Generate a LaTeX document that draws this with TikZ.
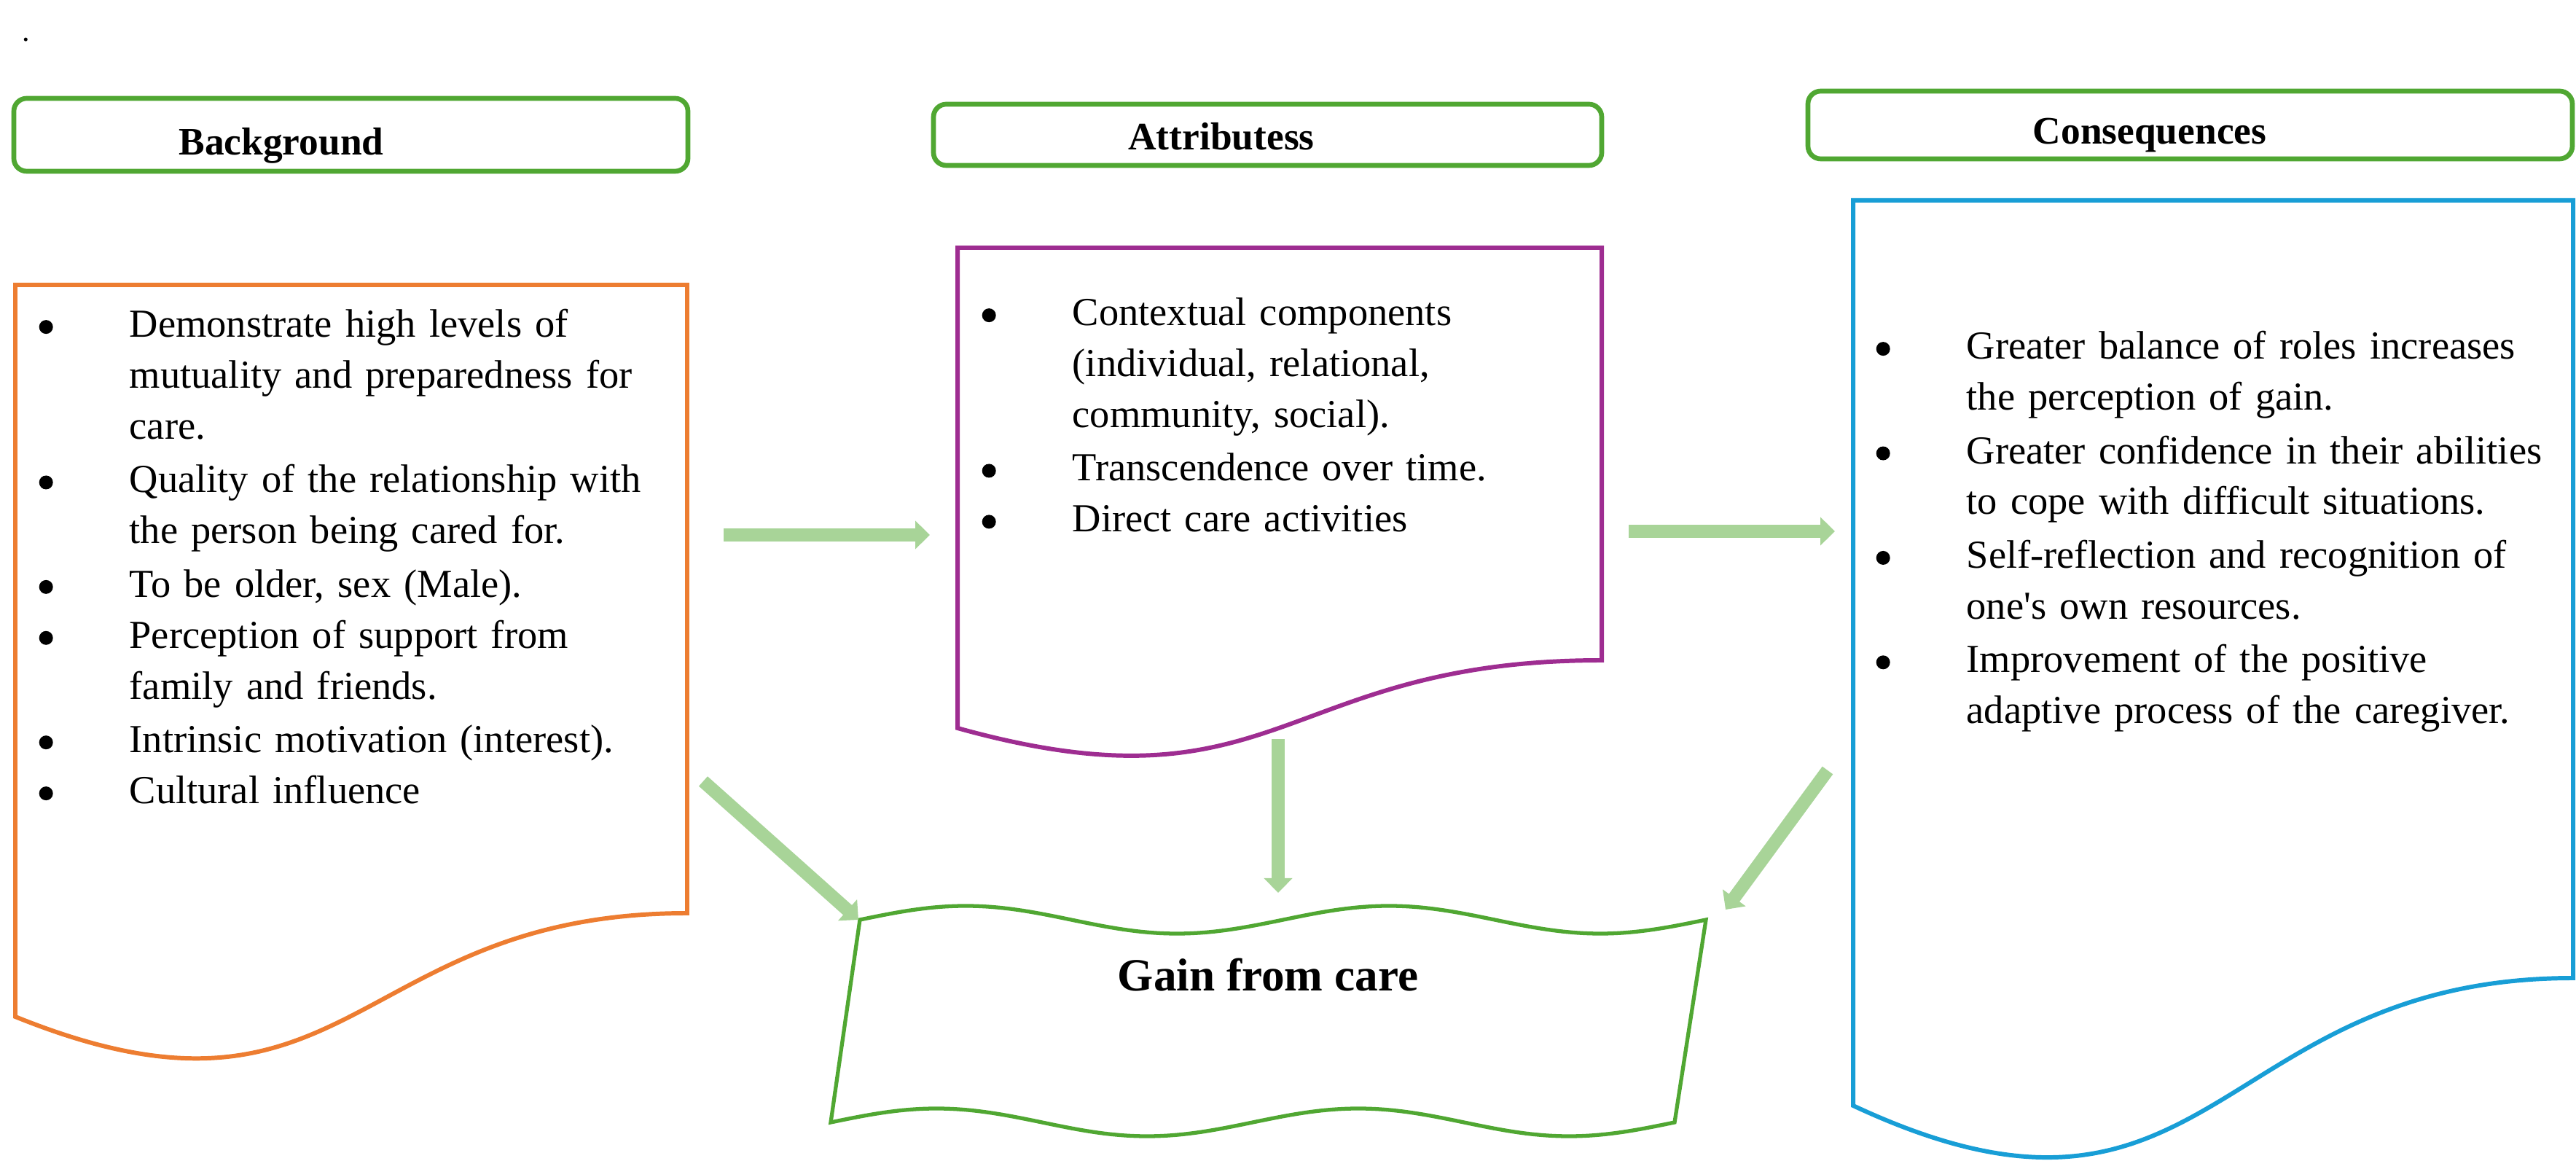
\documentclass[tikz,border=0pt]{standalone}
\usepackage{fontspec}
\setmainfont{Liberation Serif}
\usetikzlibrary{arrows.meta}
\definecolor{hdgreen}{RGB}{80,167,50}
\definecolor{bgorange}{RGB}{237,125,49}
\definecolor{atpurple}{RGB}{158,45,145}
\definecolor{csblue}{RGB}{24,158,214}
\definecolor{flowgreen}{RGB}{168,212,152}
\newcommand{\lbullet}{\tikz[baseline=0pt]\fill (0.11cm,0.14cm) circle (0.095cm);}
\newcommand{\litem}[1]{\par\noindent\makebox[1.24cm][l]{\lbullet}\begin{tabular}[t]{@{}l@{}}#1\end{tabular}}

\begin{document}
\begin{tikzpicture}[
      headbox/.style={draw=hdgreen, line width=1.9pt, rounded corners=5pt},
      headtext/.style={font=\fontsize{15.2}{18}\selectfont\bfseries, anchor=base, inner sep=0pt},
      listtext/.style={font=\fontsize{15.5}{19.9}\selectfont, text width=9.5cm, align=left, anchor=north west, inner sep=0pt},
      docline/.style={line width=1.7pt},
      flow/.style={draw=flowgreen, line width=0.18cm, -{Triangle[length=0.2cm, width=0.38cm]}}
    ]
      \useasboundingbox (0,0) rectangle (35.35,15.93);
      \node[font=\fontsize{12}{14}\selectfont, anchor=base west, inner sep=0pt] (dot) at (0.30,15.36) {.};

      % Headers
      \node[headbox, minimum width=9.25cm, minimum height=1.0cm] (bgHead) at (4.815,14.08) {};
      \node[headbox, minimum width=9.17cm, minimum height=0.84cm] (atHead) at (17.395,14.08) {};
      \node[headbox, minimum width=10.49cm, minimum height=0.93cm] (csHead) at (30.055,14.215) {};
      \node[headtext] (bgTitle) at (3.86,13.80) {Background};
      \node[headtext] (atTitle) at (16.76,13.87) {Attributess};
      \node[headtext] (csTitle) at (29.50,13.95) {Consequences};

      % Documents
      \draw[docline, draw=bgorange] (0.21,12.02) -- (9.43,12.02) -- (9.43,3.40)
        .. controls (4.82,3.40) and (4.82,0.115) .. (0.21,1.98) -- cycle;
      \draw[docline, draw=atpurple] (13.14,12.53) -- (21.98,12.53) -- (21.98,6.87)
        .. controls (17.56,6.87) and (17.56,4.71) .. (13.14,5.94) -- cycle;
      \draw[docline, draw=csblue] (25.43,13.18) -- (35.31,13.18) -- (35.31,2.51)
        .. controls (30.37,2.51) and (30.37,-1.55) .. (25.43,0.76) -- cycle;

      \node[listtext] (bgList) at (0.53,12.01) {
        \litem{Demonstrate high levels of\\ mutuality and preparedness for\\ care.}
        \litem{Quality of the relationship with\\ the person being cared for.}
        \litem{To be older, sex (Male).}
        \litem{Perception of support from\\ family and friends.}
        \litem{Intrinsic motivation (interest).}
        \litem{Cultural influence}
      };
      \node[listtext] (atList) at (13.47,12.17) {
        \litem{Contextual components\\ (individual, relational,\\ community, social).}
        \litem{Transcendence over time.}
        \litem{Direct care activities}
      };
      \node[listtext] (csList) at (25.74,11.71) {
        \litem{Greater balance of roles increases\\ the perception of gain.}
        \litem{Greater confidence in their abilities\\ to cope with difficult situations.}
        \litem{Self-reflection and recognition of\\ one\textquotesingle s own resources.}
        \litem{Improvement of the positive\\ adaptive process of the caregiver.}
      };

      % Gain from care (double wave)
      \draw[line width=1.5pt, draw=hdgreen] (11.80,3.31) sin (13.25,3.50) cos (14.70,3.31) sin (16.15,3.12) cos (17.61,3.31)
        sin (19.06,3.50) cos (20.51,3.31) sin (21.96,3.12) cos (23.41,3.31)
        -- (22.98,0.53) sin (21.53,0.34) cos (20.09,0.53) sin (18.64,0.72) cos (17.19,0.53)
        sin (15.74,0.34) cos (14.30,0.53) sin (12.85,0.72) cos (11.40,0.53) -- cycle;
      \node[font=\fontsize{18}{21}\selectfont\bfseries, anchor=base, inner sep=0pt] (gain) at (17.40,2.33) {Gain from care};

      % Arrows
      \coordinate (bgR) at (9.93,8.59);
      \coordinate (atL) at (12.76,8.59);
      \coordinate (atR) at (22.35,8.64);
      \coordinate (csL) at (25.18,8.64);
      \coordinate (bgB) at (9.65,5.21);
      \coordinate (gainL) at (11.78,3.31);
      \coordinate (atB) at (17.54,5.79);
      \coordinate (gainT) at (17.54,3.68);
      \coordinate (csB) at (25.08,5.36);
      \coordinate (gainR) at (23.68,3.45);
      \draw[flow] (bgR) -- (atL);
      \draw[flow] (atR) -- (csL);
      \draw[flow] (bgB) -- (gainL);
      \draw[flow] (atB) -- (gainT);
      \draw[flow] (csB) -- (gainR);
    \end{tikzpicture}
\end{document}
